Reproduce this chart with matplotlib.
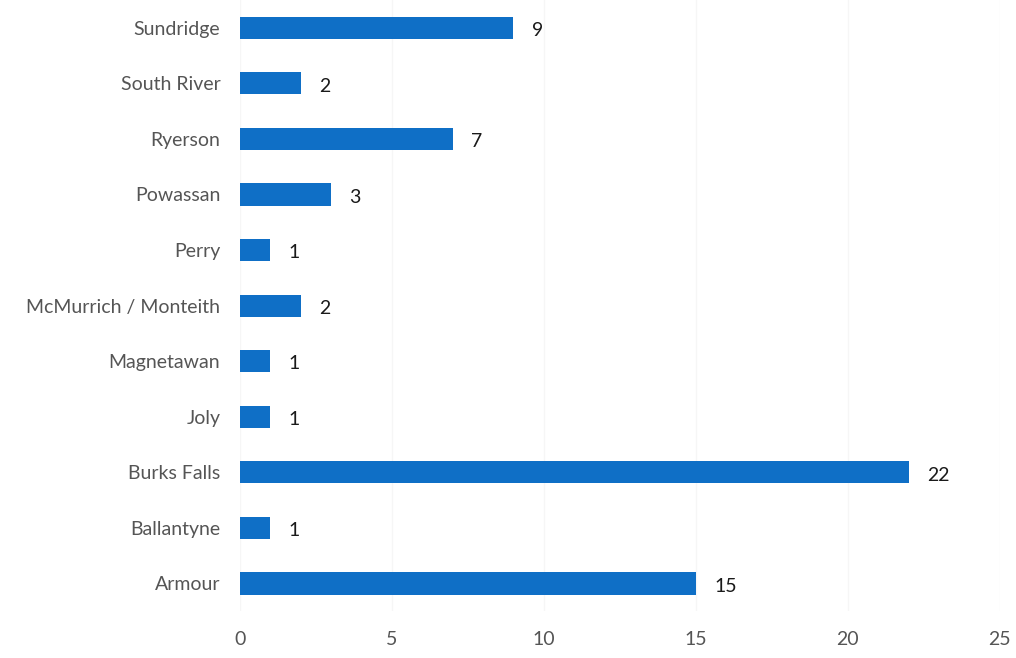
import matplotlib
matplotlib.use("Agg")
import matplotlib.pyplot as plt

categories = ["Armour", "Ballantyne", "Burks Falls", "Joly", "Magnetawan",
              "McMurrich / Monteith", "Perry", "Powassan", "Ryerson",
              "South River", "Sundridge"]
values = [15, 1, 22, 1, 1, 2, 1, 3, 7, 2, 9]
xticks = [0, 5, 10, 15, 20, 25]

plt.rcParams['font.family'] = ['Lato', 'DejaVu Sans']

fig = plt.figure(figsize=(10.16, 6.58), dpi=100)
ax = fig.add_axes([0.236, 0.071, 0.748, 0.929])

pos = list(range(len(categories)))
ax.barh(pos, values, height=0.40, color="#0F6FC6")
for p, v in zip(pos, values):
    ax.text(v + 0.6, p - 0.05, str(v), va="center", ha="left",
            fontsize=14, color="#1a1a1a")

ax.set_yticks(pos)
ax.set_yticklabels(categories, fontsize=14, color="#555555")
for lbl in ax.get_yticklabels():
    lbl.set_y(lbl.get_position()[1])
ax.set_xticks(xticks)
ax.set_xticklabels([str(t) for t in xticks], fontsize=14, color="#555555")
ax.set_xlim(0, 25)
ax.set_ylim(-0.5, len(categories) - 0.5)
ax.tick_params(axis="both", length=0)
ax.tick_params(axis="x", pad=14)
ax.tick_params(axis="y", pad=14)
for s in ax.spines.values():
    s.set_visible(False)
ax.xaxis.grid(True, color="#f6f6f6", linewidth=1)
ax.set_axisbelow(True)

fig.savefig("out.png", dpi=100, facecolor="white")
